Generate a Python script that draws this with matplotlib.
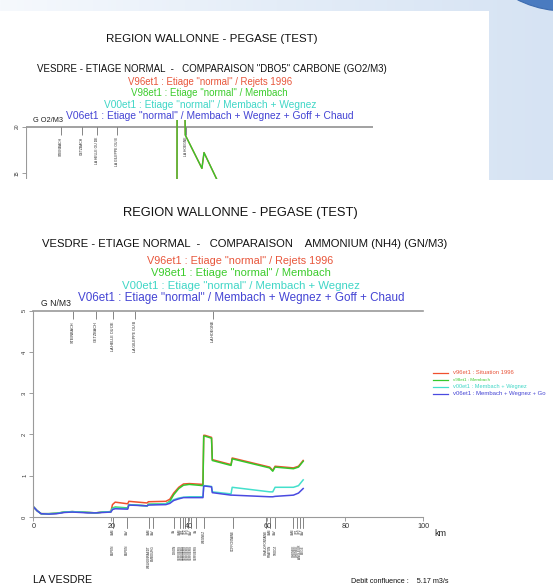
import matplotlib
matplotlib.use('Agg')
import matplotlib.pyplot as plt
import matplotlib.transforms as mtrans
from matplotlib.patches import Rectangle, Circle
from matplotlib.colors import LinearSegmentedColormap
import numpy as np

# ---------------- data ----------------
top_title = "REGION WALLONNE - PEGASE (TEST)"
top_subtitle = 'VESDRE - ETIAGE NORMAL  -   COMPARAISON "DBO5" CARBONE (GO2/M3)'
bot_subtitle = 'VESDRE - ETIAGE NORMAL  -   COMPARAISON    AMMONIUM (NH4) (GN/M3)'
scenario_labels = ['V96et1 : Etiage "normal" / Rejets 1996',
                   'V98et1 : Etiage "normal" / Membach',
                   'V00et1 : Etiage "normal" / Membach + Wegnez',
                   'V06et1 : Etiage "normal" / Membach + Wegnez + Goff + Chaud']
legend_labels = ['v96et1 : Situation 1996', 'v98et1 : Membach',
                 'v00et1 : Membach + Wegnez', 'v06et1 : Membach + Wegnez + Go']
text_colors = ['#e8553a', '#3ccc2c', '#3fd6c6', '#4444d4']
line_colors = ['#f0502e', '#34c82c', '#44e0cc', '#4a4ae0']

tributary_km = [10.1, 16.0, 20.5, 26.2, 46.0]
tributary_names = ['STEINBACH', 'GETZBACH', 'LA HELLE OU DE', 'LA GILEPPE OU B', 'LA HOEGNE']

point_km = [20.4, 23.9, 29.7, 30.6, 36.2, 37.5, 38.3, 39.0, 39.7, 40.4, 41.7, 43.8,
            51.3, 59.7, 60.7, 62.1, 66.7, 67.5, 68.3, 69.2]
point_codes = ['/AM', '/AV', '/AM', '/AV', '/A', '/AM', '/P1', '/P2', '/P3', '/AV', '/A', '',
               '', '', '/AM', '/AV', '/AM', '/P1', '/P2', '/AV']
point_names = ['EUPEN', 'EUPEN', 'WELKENRAEDT', 'LIMBOURG', 'DISON', 'VERVIERS', 'VERVIERS',
               'VERVIERS', 'VERVIERS', 'VERVIERS', 'VERVIERS', 'WEGNEZ', 'GOFFONTAINE',
               'CHAUDFONTAINE', 'PRAYON', 'TROOZ', 'CHENEE', 'CHENEE', 'ANGLEUR', 'LIEGE']

km = [0, 1, 2, 4, 6, 8, 10, 12, 14, 16, 18, 19.9, 20.3, 21, 24.2, 24.5, 29.2, 29.5, 34,
      35, 36, 37.3, 38.5, 40, 43.5, 43.7, 44.0, 45.7, 45.9, 50.7, 51.0, 60.6, 61.4, 62.0,
      66.7, 68, 69.2]
nh4_v96 = [0.25, 0.15, 0.08, 0.08, 0.09, 0.12, 0.13, 0.12, 0.11, 0.10, 0.12, 0.13, 0.30,
           0.36, 0.32, 0.38, 0.34, 0.37, 0.38, 0.43, 0.58, 0.72, 0.80, 0.81, 0.79, 1.98,
           1.98, 1.93, 1.39, 1.27, 1.43, 1.21, 1.13, 1.23, 1.19, 1.23, 1.37]
nh4_v98 = [0.25, 0.15, 0.08, 0.08, 0.09, 0.12, 0.13, 0.12, 0.11, 0.10, 0.12, 0.13, 0.22,
           0.24, 0.22, 0.30, 0.27, 0.31, 0.32, 0.38, 0.54, 0.69, 0.77, 0.79, 0.76, 1.96,
           1.96, 1.91, 1.37, 1.25, 1.41, 1.19, 1.11, 1.21, 1.17, 1.21, 1.35]
nh4_v00 = [0.25, 0.15, 0.08, 0.08, 0.09, 0.12, 0.13, 0.12, 0.11, 0.10, 0.12, 0.13, 0.21,
           0.22, 0.21, 0.30, 0.27, 0.30, 0.32, 0.36, 0.42, 0.46, 0.48, 0.49, 0.49, 0.76,
           0.76, 0.74, 0.61, 0.56, 0.72, 0.61, 0.61, 0.72, 0.72, 0.76, 0.90]
nh4_v06 = [0.25, 0.15, 0.08, 0.07, 0.08, 0.11, 0.12, 0.11, 0.10, 0.10, 0.11, 0.12, 0.18,
           0.20, 0.19, 0.29, 0.27, 0.29, 0.30, 0.33, 0.40, 0.44, 0.47, 0.47, 0.47, 0.75,
           0.75, 0.73, 0.59, 0.53, 0.53, 0.49, 0.49, 0.50, 0.53, 0.58, 0.69]

dbo_km = [40.0, 43.5, 43.55, 45.75, 45.9, 50.7, 51.3, 55.0, 57.0]
dbo_v98 = [10.0, 10.5, 23.0, 23.0, 19.1, 15.5, 17.2, 14.3, 13.3]

# ---------------- figure ----------------
W, H = 553, 586
fig = plt.figure(figsize=(W / 100, H / 100), dpi=100)
fig.patch.set_facecolor('white')
plt.rcParams['font.family'] = ['Liberation Sans', 'DejaVu Sans']
renderer = fig.canvas.get_renderer()


def fx(x):
    return x / W


def fy(y):
    return 1 - y / H


def fit_text(x0, x1, y, s, color='#111111', base=8.0):
    t = fig.text(fx(x0), fy(y), s, ha='left', va='center', fontsize=base, color=color)
    w = t.get_window_extent(renderer).width
    t.set_fontsize(base * (x1 - x0) / w)
    return t


# background (slide)
bg = fig.add_axes([0, 0, 1, 1], zorder=-10)
bg.set_xlim(0, W)
bg.set_ylim(H, 0)
bg.axis('off')
grad = np.linspace(0, 1, 256)[None, :]
cmap = LinearSegmentedColormap.from_list('bgc', ['#f6f9fd', '#e4edf8', '#d6e3f3'])
bg.imshow(grad, cmap=cmap, extent=(0, W, 180, 0), aspect='auto', zorder=0)
bg.add_patch(Rectangle((0, 11), 489, 169, facecolor='white', edgecolor='none', zorder=1))
bg.add_patch(Circle((565, -95), 106, facecolor='#4a7bc0', edgecolor='#3d6cb0', lw=0.8, zorder=2))

# ---------------- top chart (DBO5) ----------------
fit_text(106, 315, 39.5, top_title)
fit_text(37, 388, 68.5, top_subtitle)
for lab, c, (x0, x1, y) in zip(scenario_labels, text_colors,
                               [(128, 293, 82.3), (131, 290, 93.3), (104, 316, 105), (66, 355, 116)]):
    fit_text(x0, x1, y, lab, color=c)
fit_text(33, 63, 120.5, 'G O2/M3', color='#222222')

y_lo, y_hi = 14.35, 20.72
ax1 = fig.add_axes([fx(26), fy(179), 347 / W, 59 / H])
ax1.set_facecolor('none')
ax1.set_xlim(0, 100)
ax1.set_ylim(y_lo, y_hi)
for sp in ax1.spines.values():
    sp.set_visible(False)
ax1.axhline(20, color='#9a9a9a', lw=1.3, zorder=1)
ax1.axvline(0, ymin=0, ymax=(20 - y_lo) / (y_hi - y_lo), color='#9a9a9a', lw=0.8)
ax1.set_xticks([])
ax1.set_yticks([15, 20])
ax1.set_yticklabels(['15', '20'], rotation=90, va='center', fontsize=3.6, color='#333333')
ax1.tick_params(axis='y', length=3, width=0.5, color='#777777', pad=1.5)
for k, n in zip(tributary_km, tributary_names):
    ax1.vlines(k, 20 - 0.9, 20, color='#555555', lw=0.5)
    ax1.text(k, 20 - 1.1, n, rotation=90, ha='center', va='top', fontsize=2.4, color='#222222')
ax1.plot(dbo_km, dbo_v98, color=line_colors[0], lw=1.0)
ax1.plot(dbo_km, dbo_v98, color=line_colors[1], lw=1.0)

# ---------------- bottom chart (NH4) ----------------
fit_text(122.7, 359, 212.7, top_title)
fit_text(41.6, 445, 244, bot_subtitle)
for lab, c, (x0, x1, y) in zip(scenario_labels, text_colors,
                               [(147, 334, 260.7), (151, 331.5, 272.7), (121.7, 360.5, 286), (77.6, 404, 298)]):
    fit_text(x0, x1, y, lab, color=c)
fit_text(40.6, 70.5, 303.5, 'G N/M3', color='#222222')

ax2 = fig.add_axes([fx(33.3), fy(517), 390 / W, 206.3 / H])
ax2.set_facecolor('none')
ax2.set_xlim(0, 100)
ax2.set_ylim(0, 5)
ax2.spines['right'].set_visible(False)
for s in ['left', 'bottom', 'top']:
    ax2.spines[s].set_color('#9a9a9a')
    ax2.spines[s].set_linewidth(0.8)
ax2.spines['top'].set_linewidth(1.2)
ax2.set_yticks(range(6))
ax2.set_yticklabels([str(i) for i in range(6)], rotation=90, va='center', fontsize=4.2, color='#333333')
ax2.set_xticks(range(0, 101, 20))
ax2.set_xticklabels([str(i) for i in range(0, 101, 20)], fontsize=5.2, color='#333333')
ax2.tick_params(axis='both', length=3, width=0.5, color='#777777', pad=1.5)

for k, n in zip(tributary_km, tributary_names):
    ax2.vlines(k, 5 - 0.21, 5, color='#555555', lw=0.5)
    ax2.text(k, 5 - 0.25, n, rotation=90, ha='center', va='top', fontsize=2.7, color='#222222')

blend = mtrans.blended_transform_factory(ax2.transData, fig.transFigure)
for k, code, name in zip(point_km, point_codes, point_names):
    ax2.plot([k, k], [fy(517), fy(528)], transform=blend, color='#555555', lw=0.5, clip_on=False)
    if code:
        ax2.text(k, fy(530), code, transform=blend, rotation=90, ha='center', va='top',
                 fontsize=2.2, color='#222222', clip_on=False)
        ax2.text(k, fy(545), name, transform=blend, rotation=90, ha='center', va='top',
                 fontsize=2.2, color='#222222', clip_on=False)
    else:
        ax2.text(k, fy(530), name, transform=blend, rotation=90, ha='center', va='top',
                 fontsize=2.2, color='#222222', clip_on=False)

series = [nh4_v96, nh4_v98, nh4_v00, nh4_v06]
for vals, c in zip(series, line_colors):
    ax2.plot(km, vals, color=c, lw=1.1)

# legend (right side)
for i, c in enumerate(line_colors):
    y = 372.7 + 7 * i
    fig.add_artist(plt.Line2D([fx(433), fx(448)], [fy(y), fy(y)], color=c, lw=0.9))
x_ends = [513, 490, 526.7, 546]
for i, (lab, c) in enumerate(zip(legend_labels, text_colors)):
    fit_text(453, x_ends[i], 372.7 + 7 * i, lab, color=c)

fit_text(434, 446, 533, 'km', color='#222222')
fit_text(33, 92, 580, 'LA VESDRE', color='#111111')
fit_text(351, 449, 581.5, 'Debit confluence :    5.17 m3/s', color='#111111')

fig.savefig('out.png', dpi=100, facecolor=fig.get_facecolor())
